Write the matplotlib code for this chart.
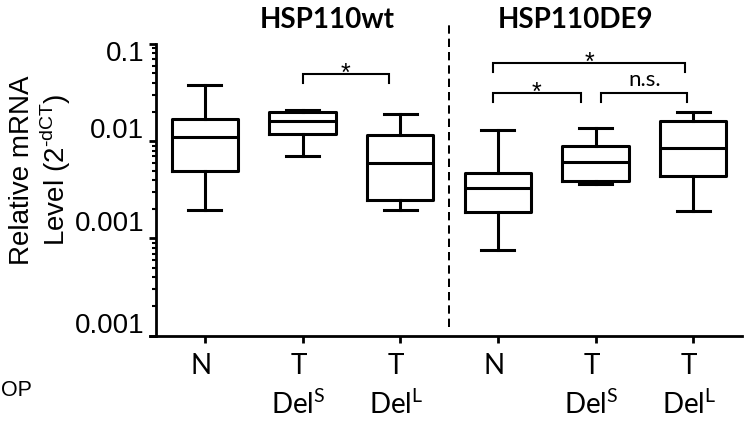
import matplotlib
matplotlib.use("Agg")
import matplotlib.pyplot as plt
import matplotlib.transforms as mtransforms
from matplotlib.ticker import LogLocator, NullFormatter, FixedLocator

plt.rcParams['mathtext.fontset'] = 'custom'
plt.rcParams['mathtext.rm'] = 'Liberation Sans'
plt.rcParams['lines.scale_dashes'] = False

# ---- data ----
groups = ["wt N", "wt T DelS", "wt T DelL", "DE9 N", "DE9 T DelS", "DE9 T DelL"]
whis_low = [0.00198, 0.00698, 0.00198, 0.000767, 0.00360, 0.00190]
q1_vals  = [0.00493, 0.01193, 0.00247, 0.00187, 0.00386, 0.00435]
medians  = [0.0110, 0.01596, 0.00596, 0.00330, 0.00605, 0.00857]
q3_vals  = [0.0170, 0.0199, 0.01148, 0.00474, 0.00891, 0.01596]
whis_high = [0.0375, 0.0211, 0.01886, 0.01291, 0.01364, 0.0199]

xtick_labels = ["N", "T\nDel$^{\\mathregular{S}}$", "T\nDel$^{\\mathregular{L}}$",
                "N", "T\nDel$^{\\mathregular{S}}$", "T\nDel$^{\\mathregular{L}}$"]
ytick_values = [1e-1, 1e-2, 1e-3, 1e-4]
ytick_labels = ["0.1", "0.01", "0.001", "0.001"]
panel_titles = ["HSP110wt", "HSP110DE9"]

# significance brackets: (x start, x end, top y, leg y, label)
br_x0 = [1.0, 2.95, 2.95, 4.06]
br_x1 = [1.89, 4.92, 3.85, 4.94]
br_top = [0.0491, 0.0642, 0.0312, 0.0312]
br_leg = [0.0400, 0.0519, 0.0252, 0.0252]
br_text = ["*", "*", "*", "n.s."]

W, H = 751, 423
fig = plt.figure(figsize=(W / 100, H / 100), dpi=100)
ax_left, ax_right, ax_top, ax_bottom = 156, 742, 44, 335.7
ax = fig.add_axes([ax_left / W, 1 - ax_bottom / H, (ax_right - ax_left) / W, (ax_bottom - ax_top) / H])

positions = list(range(len(groups)))
stats = []
for i in positions:
    stats.append(dict(med=medians[i], q1=q1_vals[i], q3=q3_vals[i],
                      whislo=whis_low[i], whishi=whis_high[i], fliers=[]))
lw = 2.2
ax.bxp(stats, positions=positions, widths=0.676, capwidths=0.34, showfliers=False,
       boxprops=dict(color='black', linewidth=lw),
       medianprops=dict(color='black', linewidth=lw),
       whiskerprops=dict(color='black', linewidth=lw),
       capprops=dict(color='black', linewidth=lw),
       manage_ticks=False)

ax.set_yscale('log')
ax.set_ylim(1e-4, 1e-1)
ax.set_xlim(-0.5, 5.5)

for s in ['top', 'right']:
    ax.spines[s].set_visible(False)
for s in ['left', 'bottom']:
    ax.spines[s].set_linewidth(2.0)
ax.spines['bottom'].set_bounds(-0.56, 5.5)

ax.yaxis.set_major_locator(FixedLocator(ytick_values))
ax.set_yticklabels(ytick_labels)
ax.yaxis.set_minor_locator(LogLocator(base=10, subs=range(2, 10)))
ax.yaxis.set_minor_formatter(NullFormatter())
ax.tick_params(axis='y', which='major', length=5, width=2.0, pad=3.6,
               labelsize=20, direction='out')
ax.tick_params(axis='y', which='minor', length=3, width=1.5, direction='out')
for lab in ax.get_yticklabels():
    lab.set_fontfamily('Liberation Sans')
# manual placement offsets of the y labels (px, downward positive)
y_off = [7, -13, -17, -13]
for lab, d in zip(ax.get_yticklabels(), y_off):
    lab.set_transform(lab.get_transform() + mtransforms.ScaledTranslation(0, -d / 100, fig.dpi_scale_trans))

ax.set_xticks(positions)
ax.set_xticklabels(xtick_labels, fontfamily='Lato', fontsize=20, linespacing=1.4)
ax.tick_params(axis='x', length=4.8, width=2.0, pad=8, direction='out')
for lab in ax.get_xticklabels():
    lab.set_transform(lab.get_transform() + mtransforms.ScaledTranslation(-4 / 100, 0, fig.dpi_scale_trans))

# separator
ax.axvline(2.5, ymin=(ax_bottom - 327) / (ax_bottom - ax_top), ymax=(ax_bottom - 22) / (ax_bottom - ax_top),
           color='black', linewidth=1.44, linestyle=(0, (6.0, 3.6)), clip_on=False)

# panel titles
fig.text(327 / W, 1 - 20 / H, panel_titles[0], fontfamily='Lato', fontweight='bold',
         fontsize=20, ha='center', va='center')
fig.text(576 / W, 1 - 20 / H, panel_titles[1], fontfamily='Lato', fontweight='bold',
         fontsize=20, ha='center', va='center')

# brackets
for x0, x1, yt, yl, t in zip(br_x0, br_x1, br_top, br_leg, br_text):
    ax.plot([x0, x0, x1, x1], [yl, yt, yt, yl], color='black', linewidth=1.5,
            clip_on=False, solid_joinstyle='miter')
    if t == '*':
        ax.annotate(t, xy=((x0 + x1) / 2, yt), xytext=(0, -5), textcoords='offset points',
                    ha='center', va='baseline', fontfamily='Liberation Sans', fontsize=18,
                    annotation_clip=False)
    else:
        ax.annotate(t, xy=((x0 + x1) / 2, yt), xytext=(0, 5), textcoords='offset points',
                    ha='center', va='baseline', fontfamily='Lato', fontsize=16,
                    annotation_clip=False)

# y axis label
fig.text(41 / W, 1 - 170 / H, "Relative mRNA\nLevel (2$^{\\mathregular{\u2010dCT}}$)",
         rotation=90, ha='center', va='center', multialignment='center',
         fontfamily='Liberation Sans', fontsize=20, linespacing=1.1)

# stray cut-off text at bottom left
fig.text(1 / W, 1 - 390 / H, "OP", fontfamily='Liberation Sans', fontsize=15.5,
         ha='left', va='center')

fig.savefig("out.png", dpi=100)
